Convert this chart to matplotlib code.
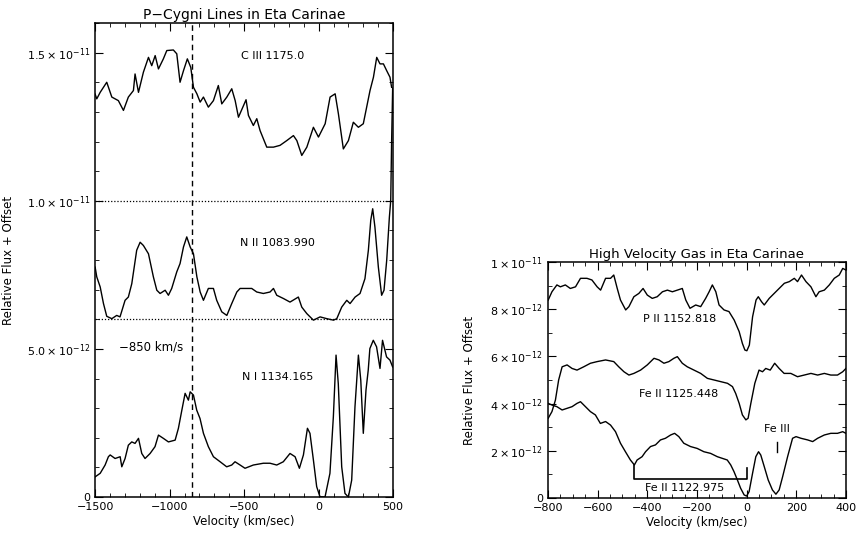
import matplotlib.pyplot as plt
import numpy as np
from matplotlib.ticker import MultipleLocator, FixedLocator

plt.rcParams['font.family'] = ['DejaVu Sans']

# ---- left panel data (velocity km/s, flux in 1e-12) ----
c3_v = [-1500, -1489, -1466, -1422, -1388, -1344, -1310, -1277, -1243, -1232, -1209, -1176,
        -1142, -1120, -1097, -1075, -1042, -1019, -975, -952, -930, -907, -881, -858, -840,
        -817, -795, -773, -740, -706, -673, -650, -616, -583, -560, -538, -487, -471, -438,
        -415, -393, -348, -303, -259, -214, -169, -146, -113, -79, -35, -1, 44, 77, 111, 133,
        166, 200, 233, 267, 300, 345, 368, 390, 412, 435, 457, 479, 490]
c3_f = [13.6, 13.44, 13.66, 14.0, 13.5, 13.38, 13.05, 13.5, 13.72, 14.28, 13.66, 14.34,
        14.84, 14.56, 14.9, 14.45, 14.79, 15.07, 15.09, 14.96, 14.0, 14.39, 14.79, 14.5, 13.83,
        13.61, 13.33, 13.5, 13.16, 13.38, 13.89, 13.27, 13.5, 13.78, 13.38, 12.82, 13.41, 12.88, 12.54,
        12.77, 12.37, 11.81, 11.81, 11.87, 12.03, 12.2, 12.03, 11.53, 11.81, 12.48, 12.15, 12.6, 13.5, 13.61, 12.93,
        11.75, 12.03, 12.65, 12.48, 12.6, 13.72, 14.17, 14.84, 14.62, 14.62, 14.39, 14.17, 13.83]

n2_v = [-1500, -1489, -1466, -1444, -1422, -1388, -1355, -1333, -1299, -1277, -1254, -1221,
        -1198, -1176, -1142, -1109, -1086, -1064, -1030, -1008, -986, -952, -930, -907, -885,
        -862, -840, -817, -795, -773, -740, -706, -684, -650, -616, -583, -549, -527, -483,
        -449, -415, -371, -326, -303, -281, -236, -192, -136, -113, -79, -35, 10, 55, 100, 122,
        155, 189, 211, 245, 278, 311, 334, 350, 363, 378, 401, 423, 439, 457, 475, 484, 490, 497]
n2_f = [7.76, 7.43, 7.09, 6.53, 6.1, 6.02, 6.13, 6.08, 6.64, 6.75, 7.2, 8.33,
        8.6, 8.49, 8.21, 7.43, 6.98, 6.87, 6.98, 6.81, 7.04, 7.6, 7.88, 8.44, 8.78,
        8.44, 8.21, 7.43, 6.92, 6.64, 7.04, 7.04, 6.64, 6.25, 6.13, 6.53, 6.92, 7.04, 7.04,
        7.04, 6.92, 6.87, 6.92, 7.04, 6.81, 6.7, 6.58, 6.75, 6.41, 6.19, 5.97, 6.08, 6.02, 5.97, 6.02,
        6.41, 6.64, 6.53, 6.75, 6.87, 7.37, 8.33, 9.34, 9.73, 9.11, 7.76, 6.81, 6.98, 7.99, 9.45, 10.0, 12.0, 13.8]

n1_v = [-1500, -1466, -1433, -1411, -1399, -1366, -1332, -1321, -1299, -1277, -1254, -1232,
        -1209, -1187, -1165, -1131, -1098, -1075, -1042, -1008, -963, -941, -918, -896, -874,
        -862, -840, -818, -796, -773, -740, -706, -661, -617, -583, -561, -527, -494, -438,
        -371, -326, -281, -237, -192, -158, -129, -102, -75, -58, -35, -13, 9, 43, 76, 99,
        117, 132, 155, 177, 200, 222, 244, 267, 283, 300, 318, 333, 344, 367, 389, 412, 429,
        456, 479, 497]
n1_f = [0.68, 0.8, 1.08, 1.36, 1.42, 1.3, 1.36, 1.02, 1.3, 1.75, 1.86, 1.81,
        1.98, 1.47, 1.3, 1.47, 1.7, 2.09, 1.98, 1.86, 1.92, 2.32, 2.93, 3.5, 3.27,
        3.55, 3.44, 2.93, 2.65, 2.15, 1.7, 1.36, 1.19, 1.02, 1.08, 1.19, 1.08, 0.97, 1.08,
        1.14, 1.14, 1.08, 1.19, 1.47, 1.36, 0.97, 1.42, 2.32, 2.15, 1.25, 0.35, 0.01, 0.0, 0.8, 2.71,
        4.79, 3.83, 1.02, 0.12, 0.0, 0.57, 3.04, 4.79, 3.94, 2.15, 3.61, 4.28, 5.01, 5.29, 5.07, 4.34, 5.29,
        4.73, 4.62, 4.39]

# ---- right panel data ----
p2_v = [-799, -784, -764, -750, -730, -710, -689, -669, -643, -623, -602, -588, -568, -548,
        -535, -521, -508, -487, -474, -454, -434, -417, -400, -380, -360, -339, -319, -299,
        -279, -259, -245, -228, -205, -185, -165, -151, -138, -124, -111, -91, -71, -50, -30,
        -17, -7, 1, 11, 24, 38, 47, 60, 71, 91, 111, 131, 152, 172, 192, 205, 221, 239, 259,
        279, 292, 313, 333, 353, 373, 387, 400]
p2_f = [8.39, 8.74, 9.03, 8.95, 9.03, 8.88, 8.95, 9.31, 9.31, 9.24, 8.95, 8.81, 9.31, 9.31,
        9.45, 8.88, 8.39, 7.97, 8.11, 8.53, 8.67, 8.88, 8.6, 8.46, 8.53, 8.74, 8.81, 8.74,
        8.81, 8.88, 8.39, 8.04, 8.18, 8.11, 8.46, 8.74, 9.03, 8.74, 8.18, 7.97, 7.9, 7.54, 7.05,
        6.55, 6.27, 6.24, 6.48, 7.68, 8.39, 8.53, 8.32, 8.18, 8.46, 8.67, 8.88, 9.1, 9.17, 9.31, 9.17, 9.45, 9.17, 8.95,
        8.53, 8.74, 8.81, 9.03, 9.31, 9.45, 9.73, 9.66]

fe2a_v = [-799, -784, -770, -757, -743, -723, -703, -683, -656, -629, -602, -568, -535, -515,
          -494, -474, -454, -427, -400, -373, -353, -333, -313, -293, -279, -259, -239, -212,
          -185, -158, -131, -104, -77, -57, -44, -30, -17, -3, 6, 17, 33, 50, 64, 77, 95, 113,
          131, 151, 178, 205, 232, 259, 286, 313, 339, 366, 387, 400]
fe2a_f = [3.38, 3.66, 4.15, 5.0, 5.56, 5.64, 5.49, 5.42, 5.56, 5.71, 5.78, 5.85, 5.78, 5.56,
          5.35, 5.21, 5.28, 5.42, 5.64, 5.92, 5.85, 5.71, 5.78, 5.92, 5.99, 5.71, 5.56, 5.42,
          5.28, 5.07, 5.0, 4.93, 4.86, 4.72, 4.43, 4.01, 3.52, 3.31, 3.38, 4.01, 4.86, 5.42, 5.35, 5.49, 5.42, 5.71,
          5.49, 5.28, 5.28, 5.14, 5.21, 5.28, 5.21, 5.28, 5.21, 5.21, 5.35, 5.49]

fe2b_v = [-799, -784, -764, -743, -723, -703, -683, -669, -649, -629, -609, -589, -568, -548,
          -528, -508, -488, -468, -452, -441, -421, -407, -387, -367, -347, -327, -306, -290,
          -273, -253, -226, -199, -172, -145, -118, -98, -78, -64, -51, -37, -24, -10, 0, 10,
          24, 37, 48, 57, 71, 87, 104, 118, 131, 145, 165, 185, 199, 219, 246, 266, 286, 313,
          339, 366, 387, 400]
fe2b_f = [4.01, 3.94, 3.87, 3.73, 3.8, 3.87, 4.01, 4.08, 3.87, 3.66, 3.52, 3.16, 3.24, 3.09,
          2.81, 2.32, 1.96, 1.61, 1.4, 1.61, 1.75, 1.96, 2.18, 2.25, 2.46, 2.53, 2.67, 2.74,
          2.6, 2.32, 2.18, 2.1, 1.96, 1.89, 1.75, 1.68, 1.61, 1.4, 1.12, 0.76, 0.41, 0.13, 0.08, 0.27,
          1.05, 1.75, 1.96, 1.82, 1.33, 0.76, 0.34, 0.16, 0.34, 0.9, 1.75, 2.53, 2.6, 2.53, 2.46, 2.39, 2.53, 2.67,
          2.74, 2.74, 2.81, 2.74]

left_xticks = [-1500, -1000, -500, 0, 500]
right_xticks = [-800, -600, -400, -200, 0, 200, 400]

S = 1e-12
fig = plt.figure(figsize=(8.57, 5.35), dpi=100)

# ----- left panel -----
ax1 = fig.add_axes([0.111, 0.071, 0.3477, 0.886])
ax1.plot(c3_v, np.array(c3_f) * S, color='black', lw=1)
ax1.plot(n2_v, np.array(n2_f) * S, color='black', lw=1)
ax1.plot(n1_v, np.array(n1_f) * S, color='black', lw=1)
ax1.axhline(10 * S, color='black', lw=0.9, ls=(0, (1, 1.5)))
ax1.axhline(6 * S, color='black', lw=0.9, ls=(0, (1, 1.5)))
ax1.axvline(-850, color='black', lw=1, ls=(0, (4, 3)))
ax1.set_xlim(-1500, 500)
ax1.set_ylim(0, 16 * S)
ax1.xaxis.set_major_locator(FixedLocator(left_xticks))
ax1.xaxis.set_minor_locator(MultipleLocator(100))
ax1.yaxis.set_major_locator(FixedLocator([0, 5 * S, 10 * S, 15 * S]))
ax1.yaxis.set_minor_locator(MultipleLocator(1 * S))
ax1.set_yticklabels(['0', r'$5.0\times10^{-12}$', r'$1.0\times10^{-11}$', r'$1.5\times10^{-11}$'])
ax1.set_xticklabels([str(t).replace('-', '\u2212') for t in left_xticks])
ax1.text(-310, 14.87 * S, 'C III 1175.0', fontsize=8, ha='center', va='center')
ax1.text(-275, 8.56 * S, 'N II 1083.990', fontsize=8, ha='center', va='center')
ax1.text(-275, 4.04 * S, 'N I 1134.165', fontsize=8, ha='center', va='center')
ax1.text(-1125, 5.06 * S, '\u2212850 km/s', fontsize=8.5, ha='center', va='center')
ax1.set_title('P\u2212Cygni Lines in Eta Carinae', fontsize=10, pad=3)
ax1.set_xlabel('Velocity (km/sec)', fontsize=8.5, labelpad=2)
ax1.set_ylabel('Relative Flux + Offset', fontsize=8.5)
ax1.yaxis.set_label_coords(-0.27, 0.5)

# ----- right panel -----
ax2 = fig.add_axes([0.6394, 0.0692, 0.3477, 0.441])
ax2.plot(p2_v, np.array(p2_f) * S, color='black', lw=1)
ax2.plot(fe2a_v, np.array(fe2a_f) * S, color='black', lw=1)
ax2.plot(fe2b_v, np.array(fe2b_f) * S, color='black', lw=1)
# bracket for Fe II 1122.975 and Fe III marker
ax2.plot([-452, -452, 0, 0], [1.4 * S, 0.79 * S, 0.79 * S, 1.26 * S], color='black', lw=1.2)
ax2.plot([121, 121], [1.96 * S, 2.39 * S], color='black', lw=1)
ax2.set_xlim(-800, 400)
ax2.set_ylim(0, 10 * S)
ax2.xaxis.set_major_locator(FixedLocator(right_xticks))
ax2.xaxis.set_minor_locator(MultipleLocator(50))
ax2.yaxis.set_major_locator(FixedLocator([0, 2 * S, 4 * S, 6 * S, 8 * S, 10 * S]))
ax2.yaxis.set_minor_locator(MultipleLocator(1 * S))
ax2.set_yticklabels(['0', r'$2\times10^{-12}$', r'$4\times10^{-12}$', r'$6\times10^{-12}$',
                     r'$8\times10^{-12}$', r'$1\times10^{-11}$'])
ax2.set_xticklabels([str(t).replace('-', '\u2212') for t in right_xticks])
ax2.text(-271, 7.57 * S, 'P II 1152.818', fontsize=8, ha='center', va='center')
ax2.text(-275, 4.41 * S, 'Fe II 1125.448', fontsize=8, ha='center', va='center')
ax2.text(-248, 0.41 * S, 'Fe II 1122.975', fontsize=8, ha='center', va='center')
ax2.text(121, 2.92 * S, 'Fe III', fontsize=8, ha='center', va='center')
ax2.set_title('High Velocity Gas in Eta Carinae', fontsize=9.5, pad=3)
ax2.set_xlabel('Velocity (km/sec)', fontsize=8.5, labelpad=2)
ax2.set_ylabel('Relative Flux + Offset', fontsize=8.5)
ax2.yaxis.set_label_coords(-0.24, 0.5)

for ax in (ax1, ax2):
    ax.tick_params(which='both', direction='in', top=True, right=True, labelsize=8)
    ax.tick_params(which='major', length=6)
    ax.tick_params(which='minor', length=3)
    for sp in ax.spines.values():
        sp.set_linewidth(1.1)

fig.savefig('out.png', dpi=100)
